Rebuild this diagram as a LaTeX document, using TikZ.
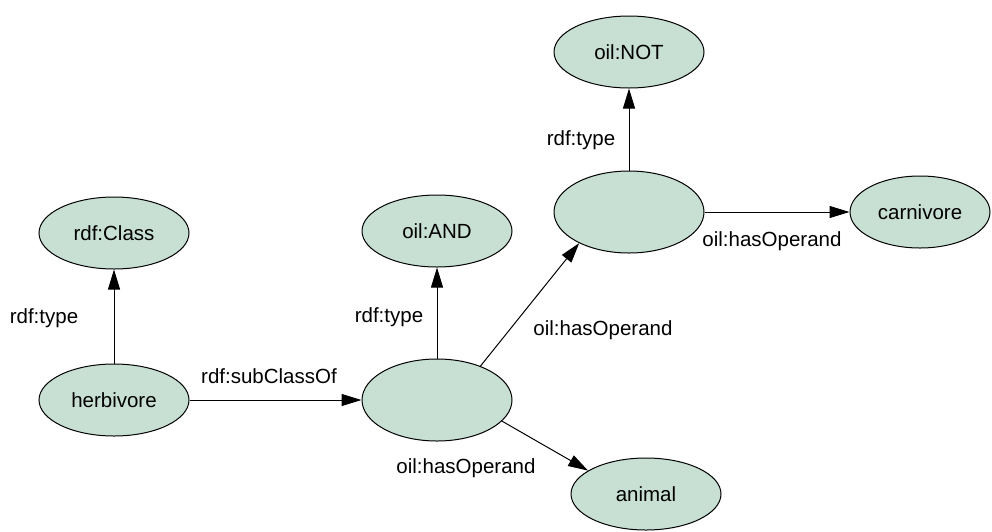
\documentclass[tikz,border=0pt]{standalone}
\usepackage{fontspec}
\setmainfont{Liberation Sans}
\usetikzlibrary{shapes.geometric,arrows.meta}
\definecolor{nodegreen}{HTML}{C8DFD4}

\begin{document}
\begin{tikzpicture}[x=1pt,y=-1pt]
	\tikzset{every node/.style={font=\fontsize{20.5}{24}\selectfont}}
	\tikzset{resource/.style={ellipse,draw,fill=nodegreen,line width=1pt,minimum width=150pt,minimum height=72pt,inner sep=0pt}}
	\tikzset{bnode/.style={resource,minimum height=82pt}}
	\tikzset{arc/.style={draw,line width=1pt,-{Triangle[length=20pt,width=12pt]}}}
	\tikzset{prop/.style={inner sep=0pt}}
	\useasboundingbox (0,0) rectangle (992,531);
	% resources
	\node[resource] (class) at (114,233) {rdf:Class};
	\node[resource] (herb) at (114,400) {herbivore};
	\node[resource] (and) at (437,231) {oil:AND};
	\node[bnode] (b1) at (437,400) {};
	\node[bnode] (b2) at (629,212) {};
	\node[resource] (not) at (629,52) {oil:NOT};
	\node[resource,minimum width=140pt] (carn) at (920,212) {carnivore};
	\node[resource] (animal) at (646,494) {animal};
	% properties
	\path[arc] (herb) -- (class);
	\path[arc] (herb.east) -- (b1.west);
	\path[arc] (b1) -- (and);
	\path[arc] (b1.38) -- (b2.212);
	\path[arc] (b1.-18) -- (animal.158);
	\path[arc] (b2) -- (not);
	\path[arc] (b2.east) -- (carn.west);
	\node[prop] (t1) at (44,318) {rdf:type};
	\node[prop] (sc) at (269,376) {rdf:subClassOf};
	\node[prop] (t2) at (389,317) {rdf:type};
	\node[prop] (op1) at (603,330) {oil:hasOperand};
	\node[prop] (op2) at (466,468) {oil:hasOperand};
	\node[prop] (t3) at (581,140) {rdf:type};
	\node[prop] (op3) at (772,241) {oil:hasOperand};
\end{tikzpicture}
\end{document}
